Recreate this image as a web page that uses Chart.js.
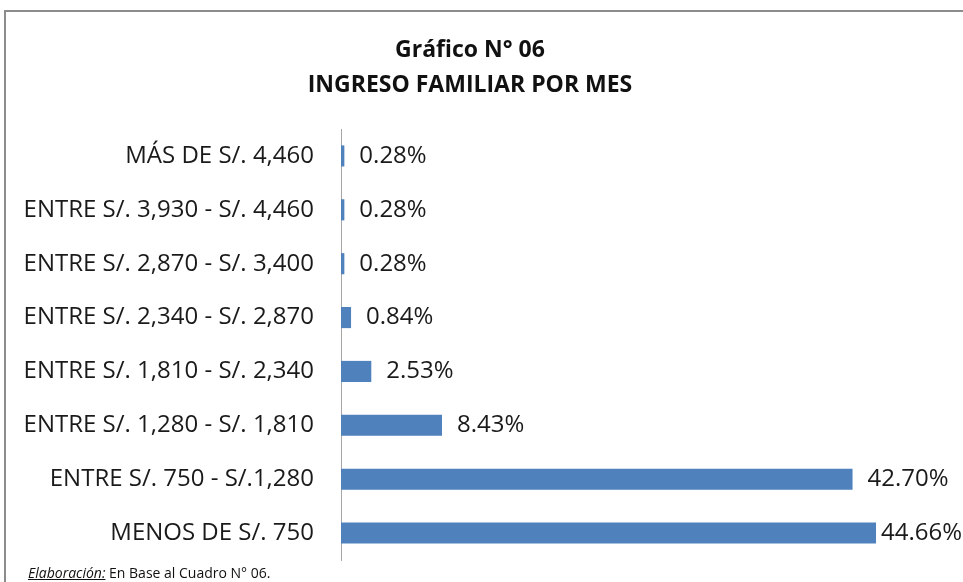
<!DOCTYPE html>
<html>
<head>
<meta charset="utf-8">
<script src="https://cdn.jsdelivr.net/npm/chart.js@4"></script>
<style>
  html, body { margin: 0; padding: 0; background: #fff; }
  #wrap { position: relative; width: 963px; height: 582px; overflow: hidden; }
  #chart { position: absolute; left: 0; top: 0; }
  #frame { position: absolute; left: 4px; top: 10px; width: 1000px; height: 600px;
           border-left: 2px solid #8c8c8c; border-top: 2px solid #8c8c8c; }
  #note { position: absolute; left: 28px; top: 563px; font-family: "Open Sans", sans-serif;
          font-size: 14px; line-height: 20px; color: #111; }
  #note i { text-decoration: underline; }
</style>
</head>
<body>
<div id="wrap">
  <div id="frame"></div>
  <canvas id="chart" width="963" height="582"></canvas>
  <div id="note"><i>Elaboración:</i> En Base al Cuadro N° 06.</div>
</div>
<script>
// Datos del gráfico
var categorias = [
    'MÁS DE S/. 4,460',
    'ENTRE S/. 3,930 - S/. 4,460',
    'ENTRE S/. 2,870 - S/. 3,400',
    'ENTRE S/. 2,340 - S/. 2,870',
    'ENTRE S/. 1,810 - S/. 2,340',
    'ENTRE S/. 1,280 - S/. 1,810',
    'ENTRE S/. 750 - S/.1,280',
    'MENOS DE S/. 750'
];
var porcentajes = [0.28, 0.28, 0.28, 0.84, 2.53, 8.43, 42.70, 44.66];
var titulo = ['Gráfico N° 06', 'INGRESO FAMILIAR POR MES'];

var FONT = '"Open Sans", sans-serif';

// Etiquetas de valor al final de cada barra
var valueLabels = {
    id: 'valueLabels',
    afterDatasetsDraw: function(chart) {
        var ctx = chart.ctx;
        var meta = chart.getDatasetMeta(0);
        ctx.save();
        ctx.font = '24px ' + FONT;
        ctx.fillStyle = '#1a1a1a';
        ctx.textAlign = 'left';
        ctx.textBaseline = 'middle';
        meta.data.forEach(function(bar, i) {
            var txt = porcentajes[i].toFixed(2) + '%';
            var w = ctx.measureText(txt).width;
            var x = Math.min(bar.x + 15, chart.width - 1 - w);
            ctx.fillText(txt, x, bar.y);
        });
        ctx.restore();
    }
};

new Chart(document.getElementById('chart'), {
    type: 'bar',
    data: {
        labels: categorias,
        datasets: [{
            data: porcentajes,
            backgroundColor: '#4f81bd',
            borderWidth: 0,
            categoryPercentage: 0.8,
            barPercentage: 0.49
        }]
    },
    options: {
        indexAxis: 'y',
        responsive: false,
        animation: false,
        layout: {
            padding: { left: 0, right: 23, top: 0, bottom: 22 }
        },
        plugins: {
            legend: { display: false },
            tooltip: { enabled: false },
            title: {
                display: true,
                text: titulo,
                color: '#111',
                font: { family: FONT, size: 23, weight: 'bold', lineHeight: 35 / 23 },
                padding: { top: 33, bottom: 26 }
            }
        },
        scales: {
            x: {
                display: false,
                min: 0,
                max: 50
            },
            y: {
                // tickLength gives the gap between labels and axis (ticks not drawn)
                grid: { display: false, drawTicks: true, tickLength: 27 },
                border: { display: true, color: '#a6a6a6', width: 1 },
                ticks: {
                    color: '#1a1a1a',
                    font: { family: FONT, size: 24 },
                    padding: 0
                },
                afterFit: function(scale) {
                    scale.width = 341;
                }
            }
        }
    },
    plugins: [valueLabels]
});
</script>
</body>
</html>
